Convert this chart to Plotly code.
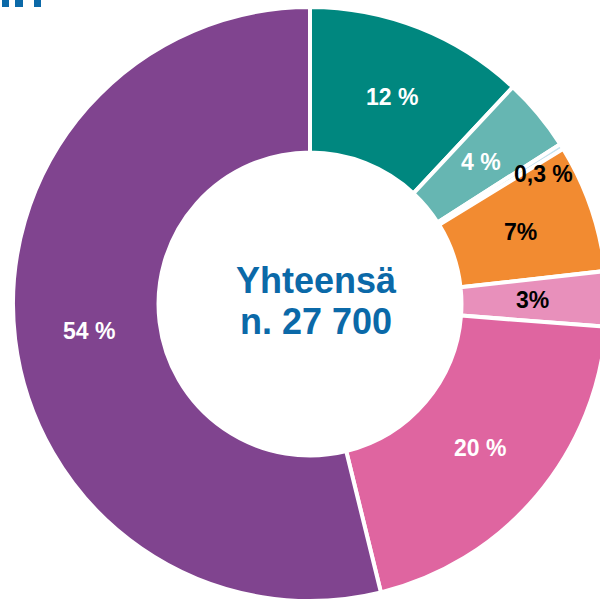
import plotly.graph_objects as go
import math

# Shares of the total, clockwise from 12 o'clock
values = [12, 4, 0.3, 7, 3, 20, 54]
labels_txt = ["12 %", "4 %", "0,3 %", "7%", "3%", "20 %", "54 %"]
colors = ["#00877F", "#66B6B2", "#C4E2EE", "#F28B31", "#E890BB", "#DF65A0", "#80448F"]
text_colors = ["white", "white", "black", "black", "black", "white", "white"]
center_lines = ["Yhteensä", "n. 27 700"]

W, H = 640, 620
cx, cy, R = 310, 304, 297  # pie centre and radius in px
HOLE = 0.51
FONT = "Liberation Sans, Arial, sans-serif"

fig = go.Figure(go.Pie(
    values=values,
    textinfo="none",
    sort=False,
    direction="clockwise",
    rotation=0,
    hole=HOLE,
    marker=dict(colors=colors, line=dict(color="white", width=4)),
    domain=dict(x=[(cx - R) / W, (cx + R) / W], y=[1 - (cy + R) / H, 1 - (cy - R) / H]),
    showlegend=False,
    hoverinfo="skip",
))

annotations = []
# Slice labels at the mid angle of each slice; the tiny slice gets its label near the rim
total = sum(values)
cum = 0.0
for v, txt, col in zip(values, labels_txt, text_colors):
    mid_deg = (cum + v / 2) / total * 360
    cum += v
    if v < 1:
        r_lab = 0.9 * R
        mid_deg += 3
    else:
        r_lab = (1 + HOLE) / 2 * R - 2
    a = math.radians(mid_deg)
    annotations.append(dict(
        x=(cx + r_lab * math.sin(a)) / W, y=1 - (cy - r_lab * math.cos(a)) / H,
        xref="paper", yref="paper", xanchor="center", yanchor="middle",
        text="<b>" + txt + "</b>", showarrow=False,
        font=dict(family=FONT, size=23, color=col),
    ))

# Centre total
for i, line in enumerate(center_lines):
    annotations.append(dict(
        x=(cx + 6) / W, y=1 - (cy - 24 + i * 41) / H, xref="paper", yref="paper",
        xanchor="center", yanchor="middle",
        text="<b>" + line + "</b>", showarrow=False,
        font=dict(family=FONT, size=36, color="#0B69A8"),
    ))

# Cut-off heading glyph fragments at the top-left corner
shapes = []
for x0, x1 in [(2, 9), (15, 23), (34, 41)]:
    shapes.append(dict(type="rect", xref="paper", yref="paper",
                       x0=x0 / W, x1=x1 / W, y0=1 - 7 / H, y1=1,
                       fillcolor="#0B69A8", line=dict(width=0)))

fig.update_layout(
    width=W, height=H,
    margin=dict(l=0, r=0, t=0, b=0),
    paper_bgcolor="white",
    annotations=annotations,
    shapes=shapes,
)

fig.write_html("out.html", post_script="document.body.style.margin='0';document.body.style.overflow='hidden';")
